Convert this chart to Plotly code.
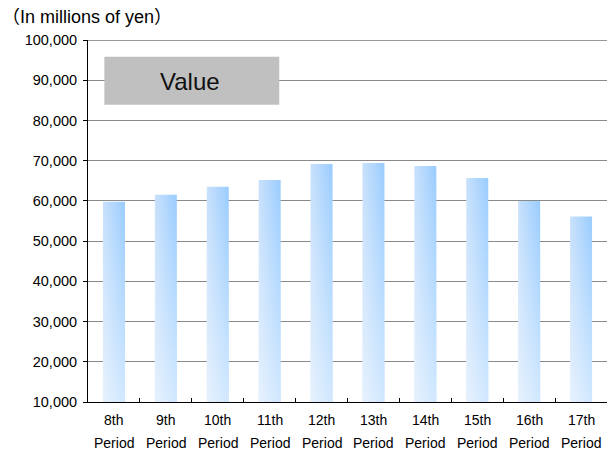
import plotly.graph_objects as go

ordinals = ["8th", "9th", "10th", "11th", "12th", "13th", "14th", "15th", "16th", "17th"]
period_word = ["Period"] * 10
values = [59800, 61500, 63500, 65200, 69200, 69400, 68700, 65700, 60000, 56100]
y_ticks = list(range(10000, 100001, 10000))
y_min = 10000
y_max = 100000
half_w = 0.212
n = len(values)

fig = go.Figure()
for i, v in enumerate(values):
    xs = [i - half_w, i + half_w, i + half_w, i - half_w, i - half_w]
    ys = [y_min, y_min, v, v, y_min]
    fig.add_trace(go.Scatter(
        x=xs, y=ys, mode="lines", fill="toself", line=dict(width=0),
        fillgradient=dict(type="horizontal", colorscale=[[0, "#c9e1fb"], [1, "#99ccff"]]),
        hoverinfo="skip", showlegend=False))
    fig.add_trace(go.Scatter(
        x=xs, y=ys, mode="lines", fill="toself", line=dict(width=0),
        fillgradient=dict(type="vertical", colorscale=[[0, "rgba(255,255,255,0.55)"], [1, "rgba(255,255,255,0)"]]),
        hoverinfo="skip", showlegend=False))

# invisible trace to carry the boundary-tick axis
fig.add_trace(go.Scatter(x=[-0.5, n - 0.5], y=[y_min, y_min], xaxis="x2", mode="markers",
                         marker=dict(opacity=0), hoverinfo="skip", showlegend=False))

fig.update_layout(
    width=608, height=454,
    margin=dict(l=88, r=1, t=40, b=52),
    paper_bgcolor="white", plot_bgcolor="white",
    font=dict(family="Liberation Sans, Arial, sans-serif", size=14, color="#000000"),
    showlegend=False,
    xaxis=dict(range=[-0.5, n - 0.5], showticklabels=False, ticks="", showgrid=False,
               zeroline=False, showline=True, linecolor="#000000", linewidth=1),
    xaxis2=dict(range=[-0.5, n - 0.5], overlaying="x", side="bottom", matches="x",
                tickmode="array", tickvals=[k + 0.5 for k in range(n - 1)],
                ticks="inside", ticklen=4, tickcolor="#000000", tickwidth=1,
                showticklabels=False, showgrid=False, zeroline=False, showline=False),
    yaxis=dict(range=[y_min, y_max], tickmode="array", tickvals=y_ticks,
               ticktext=[f"{t:,}" for t in y_ticks],
               ticks="outside", ticklen=4, tickcolor="#000000", ticklabelstandoff=3,
               showgrid=True, gridcolor="#8a8a8a", gridwidth=1.3, zeroline=False,
               showline=True, linecolor="#000000", linewidth=1,
               tickfont=dict(size=14.5)),
)

# category labels (two lines)
for i in range(n):
    fig.add_annotation(x=i, y=0, xref="x", yref="paper", yanchor="middle", yshift=-18,
                       text=ordinals[i], showarrow=False, font=dict(size=14))
    fig.add_annotation(x=i, y=0, xref="x", yref="paper", yanchor="middle", yshift=-41,
                       text=period_word[i], showarrow=False, font=dict(size=14))

# top border line at 100,000
fig.add_shape(type="line", xref="paper", yref="y", x0=0, x1=1, y0=y_max, y1=y_max,
              line=dict(color="#333333", width=1))
# legend-like box
fig.add_shape(type="rect", xref="x", yref="y", x0=-0.185, x1=3.185, y0=83880, y1=95820,
              fillcolor="#c0c0c0", line=dict(width=0), layer="above")
fig.add_annotation(x=1.465, y=89730, xref="x", yref="y", text="Value", showarrow=False,
                   font=dict(size=24, color="#111111"))
fig.add_annotation(x=0, y=1, xref="paper", yref="paper", xanchor="left", yanchor="bottom",
                   xshift=-88, yshift=11, text="（In millions of yen）", showarrow=False,
                   font=dict(size=18, family="Liberation Sans, Noto Sans CJK JP, sans-serif"))

fig.write_html("out.html")
